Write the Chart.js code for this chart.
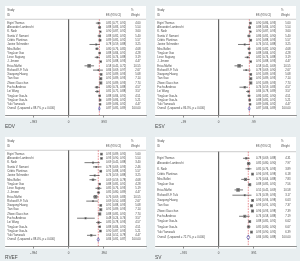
<!DOCTYPE html>
<html><head><meta charset="utf-8">
<script src="https://cdn.jsdelivr.net/npm/chart.js@4.4.1/dist/chart.umd.min.js"></script>
<style>
html,body{margin:0;padding:0;background:#e8eef0;width:300px;height:261px;overflow:hidden}
canvas{position:absolute}
</style></head><body>
<canvas id="c1" width="150" height="130" style="left:0;top:0"></canvas>
<canvas id="c2" width="150" height="130" style="left:150px;top:0"></canvas>
<canvas id="c3" width="150" height="130" style="left:0;top:131px"></canvas>
<canvas id="c4" width="150" height="130" style="left:150px;top:131px"></canvas>
<script>
// ---------- data ----------
const studiesA = ["Eigirt Thomas","Alexander Lambrecht","K. Nash","Sunita V. Samant","Cédric Plantinas","Janine Schneider","Mira Bollini","Ying-kun Guo","Lince Sugiang","J. Jensen","Erica Maffei","Richard K.F. Tuki","Xiaoyong Huang","Tian Gao","Zhiwei Xiao chun","Fuchs Andreas","Lei Wang","Ying-kun Guo-fa","Ying-kun Guo-fa","Yuki Yamasaki"];
const studiesSV = ["Eigirt Thomas","Alexander Lambrecht","K. Nash","Cédric Plantinas","Mira Bollini","Ying-kun Guo","Erica Maffei","Richard K.F. Tuki","Xiaoyong Huang","Tian Gao","Zhiwei Xiao chun","Fuchs Andreas","Ying-kun Guo-fa","Ying-kun Guo-fa","Yuki Yamasaki"];

const edvES = [0.85,0.88,0.90,0.88,0.89,0.78,0.80,0.88,0.81,0.91,0.58,0.84,0.92,0.91,0.91,0.80,0.81,0.88,0.89,0.89];
const edvLo = [0.77,0.83,0.87,0.82,0.85,0.59,0.76,0.84,0.74,0.88,0.45,0.69,0.89,0.89,0.89,0.74,0.75,0.84,0.86,0.86];
const edvHi = [0.91,0.92,0.92,0.92,0.92,0.88,0.85,0.91,0.88,0.93,0.72,0.97,0.93,0.93,0.93,0.88,0.88,0.91,0.92,0.92];
const edvW  = [4.60,5.54,3.60,5.40,5.57,3.25,4.68,4.28,3.19,4.47,10.55,2.67,5.68,7.14,7.74,4.57,3.57,4.51,5.21,4.47];
const edvOverall = [0.87,0.85,0.89];
const edvI2 = "Overall  (I-squared = 88.7%, p = 0.000)";
const edvTicks = [-0.993,0,0.993];
const edvTickLabels = ["-.993","0",".993"];

const esvES = [0.90,0.88,0.90,0.86,0.91,0.74,0.86,0.88,0.82,0.91,0.58,0.78,0.91,0.91,0.91,0.74,0.84,0.86,0.88,0.89];
const esvLo = [0.86,0.84,0.87,0.81,0.88,0.55,0.82,0.84,0.74,0.88,0.45,0.69,0.89,0.89,0.89,0.59,0.78,0.82,0.85,0.86];
const esvHi = [0.93,0.91,0.93,0.90,0.93,0.88,0.90,0.91,0.88,0.93,0.69,0.90,0.93,0.93,0.93,0.83,0.89,0.90,0.91,0.92];
const esvW  = [5.60,5.54,3.60,5.40,5.57,3.25,4.68,4.28,3.19,4.47,10.55,2.67,5.68,7.14,7.74,4.57,3.57,4.51,5.21,4.47];
const esvOverall = [0.87,0.84,0.89];
const esvI2 = "Overall  (I-squared = 86.3%, p = 0.000)";
const esvTicks = [-0.99,0,0.99];
const esvTickLabels = ["-.99","0",".99"];

const rvefES = [0.93,0.93,0.69,0.78,0.91,0.74,0.69,0.88,0.85,0.85,0.76,0.69,0.91,0.91,0.88,0.48,0.85,0.88,0.90,0.64];
const rvefLo = [0.89,0.90,0.45,0.69,0.88,0.59,0.59,0.85,0.76,0.80,0.69,0.50,0.88,0.89,0.85,0.24,0.78,0.84,0.87,0.52];
const rvefHi = [0.95,0.95,0.88,0.93,0.93,0.88,0.78,0.91,0.93,0.89,0.83,0.83,0.93,0.93,0.91,0.74,0.93,0.91,0.93,0.78];
const rvefW  = [5.60,5.54,3.40,2.46,5.57,3.25,4.68,4.28,5.19,4.47,10.55,2.67,5.68,7.14,7.74,3.57,4.57,4.51,5.21,4.47];
const rvefOverall = [0.84,0.81,0.87];
const rvefI2 = "Overall  (I-squared = 88.4%, p = 0.000)";
const rvefTicks = [-0.994,0,0.994];
const rvefTickLabels = ["-.994","0",".994"];

const svES = [0.78,0.85,0.85,0.96,0.76,0.88,0.55,0.74,0.96,0.93,0.96,0.74,0.88,0.85,0.93];
const svLo = [0.69,0.80,0.76,0.93,0.64,0.85,0.45,0.39,0.94,0.91,0.93,0.58,0.85,0.80,0.90];
const svHi = [0.88,0.90,0.93,0.98,0.88,0.91,0.69,0.93,0.98,0.95,0.98,0.88,0.91,0.90,0.95];
const svW  = [4.31,7.97,3.89,6.18,7.83,7.56,10.58,3.17,6.63,7.37,7.39,7.19,6.62,6.67,6.39];
const svOverall = [0.84,0.80,0.88];
const svI2 = "Overall  (I-squared = 72.7%, p = 0.000)";
const svTicks = [-0.991,0,0.991];
const svTickLabels = ["-.991","0",".991"];

// ---------- layout (not data) ----------
const layA = {yMin:-3, yMax:22.5, studyRow:-2.0, idRow:-0.9, lineRow:0.1, diaH:0.45};
const laySV = {yMin:-3.04, yMax:17.64, studyRow:-2.15, idRow:-1.2, lineRow:-0.25, diaH:0.45};
const X_MIN = -1.80, X_MAX = 2.19;
const FONT = '"Liberation Sans", Arial, sans-serif';
const TXT = '#4a4a4a';

function makePanel(canvasId, title, names, es, lo, hi, w, overall, i2, ticks, tickLabels, lay) {
  const n = names.length;
  const ovRow = n + 1;
  const ciData = [];
  es.forEach((v,i) => { ciData.push({x:lo[i],y:i+1},{x:hi[i],y:i+1},{x:null,y:null}); });
  const boxData = es.map((v,i) => ({x:v,y:i+1}));
  const boxR = w.map(v => 0.78*Math.sqrt(v));
  const [oe, ol, oh] = overall;
  const dia = [{x:ol,y:ovRow},{x:oe,y:ovRow-lay.diaH},{x:oh,y:ovRow},{x:oe,y:ovRow+lay.diaH},{x:ol,y:ovRow}];

  const textPlugin = {
    id:'txt',
    beforeDraw(chart){
      const {ctx, chartArea:a} = chart;
      ctx.save(); ctx.fillStyle = '#ffffff';
      ctx.fillRect(a.left, a.top, a.right-a.left, a.bottom-a.top+2.5);
      ctx.restore();
    },
    afterDraw(chart){
      const {ctx, chartArea:a} = chart;
      const ys = chart.scales.y;
      ctx.save();
      ctx.fillStyle = TXT; ctx.textBaseline = 'middle';
      ctx.font = '2.75px ' + FONT;
      const xName = a.left + 2.3, xES = a.left + 101, xW = a.left + 135.5, xWh = a.left + 126;
      ctx.textAlign = 'left';
      ctx.fillText('Study', xName, ys.getPixelForValue(lay.studyRow));
      ctx.fillText('ID', xName, ys.getPixelForValue(lay.idRow));
      ctx.fillText('ES (95% CI)', xES, ys.getPixelForValue(lay.idRow));
      ctx.fillText('%', xWh, ys.getPixelForValue(lay.studyRow));
      ctx.fillText('Weight', xWh, ys.getPixelForValue(lay.idRow));
      names.forEach((nm,i) => {
        const y = ys.getPixelForValue(i+1);
        ctx.textAlign = 'left';
        ctx.fillText(nm, xName, y);
        ctx.fillText(es[i].toFixed(2)+' ('+lo[i].toFixed(2)+', '+hi[i].toFixed(2)+')', xES, y);
        ctx.textAlign = 'right';
        ctx.fillText(w[i].toFixed(2), xW, y);
      });
      const yo = ys.getPixelForValue(ovRow);
      ctx.textAlign = 'left';
      ctx.fillText(i2, xName, yo);
      ctx.fillText(oe.toFixed(2)+' ('+ol.toFixed(2)+', '+oh.toFixed(2)+')', xES, yo);
      ctx.textAlign = 'right';
      ctx.fillText('100.00', xW, yo);
      ctx.textAlign = 'left';
      ctx.font = '4.8px ' + FONT;
      ctx.fillText(title, 5, 126.5);
      ctx.restore();
    }
  };

  new Chart(document.getElementById(canvasId), {
    type:'scatter',
    data:{datasets:[
      {type:'line', data:[{x:X_MIN,y:lay.lineRow},{x:X_MAX,y:lay.lineRow}], borderColor:'#999', borderWidth:0.5, pointRadius:0, order:5},
      {type:'line', data:[{x:0,y:lay.lineRow},{x:0,y:lay.yMax}], borderColor:'#555', borderWidth:0.6, pointRadius:0, order:5},
      {type:'line', data:[{x:oe,y:lay.lineRow},{x:oe,y:lay.yMax}], borderColor:'rgba(215,40,50,0.85)', borderWidth:0.6, borderDash:[1.6,1.1], pointRadius:0, order:4},
      {type:'line', data:ciData, borderColor:'#222', borderWidth:0.6, pointRadius:0, spanGaps:false, order:3},
      {type:'scatter', data:boxData, pointStyle:'rect', pointRadius:boxR, backgroundColor:'#7a7a7a', borderWidth:0, order:2},
      {type:'scatter', data:boxData, pointStyle:'circle', pointRadius:0.45, backgroundColor:'#111', borderWidth:0, order:1},
      {type:'line', data:dia, borderColor:'#4a58b0', borderWidth:0.7, pointRadius:0, fill:false, order:1}
    ]},
    options:{
      responsive:false, animation:false, devicePixelRatio:1,
      layout:{padding:{left:5,right:3,top:6,bottom:5}},
      plugins:{legend:{display:false}, tooltip:{enabled:false}},
      events:[],
      scales:{
        x:{type:'linear', min:X_MIN, max:X_MAX, position:'bottom',
          afterBuildTicks(s){ s.ticks = ticks.map(v => ({value:v})); },
          afterFit(s){ s.height = 10; },
          ticks:{autoSkip:false, maxRotation:0, padding:2.5, color:TXT, font:{size:3, family:FONT},
            callback(v){ const k = ticks.indexOf(v); return k >= 0 ? tickLabels[k] : ''; }},
          grid:{display:true, drawOnChartArea:false, drawTicks:true, tickLength:2.5, color:'#444', lineWidth:0.6},
          border:{display:true, color:'#444', width:0.6}
        },
        y:{type:'linear', reverse:true, min:lay.yMin, max:lay.yMax, display:false}
      }
    },
    plugins:[textPlugin]
  });
}

makePanel('c1','EDV',studiesA,edvES,edvLo,edvHi,edvW,edvOverall,edvI2,edvTicks,edvTickLabels,layA);
makePanel('c2','ESV',studiesA,esvES,esvLo,esvHi,esvW,esvOverall,esvI2,esvTicks,esvTickLabels,layA);
makePanel('c3','RVEF',studiesA,rvefES,rvefLo,rvefHi,rvefW,rvefOverall,rvefI2,rvefTicks,rvefTickLabels,layA);
makePanel('c4','SV',studiesSV,svES,svLo,svHi,svW,svOverall,svI2,svTicks,svTickLabels,laySV);
</script>
</body></html>
